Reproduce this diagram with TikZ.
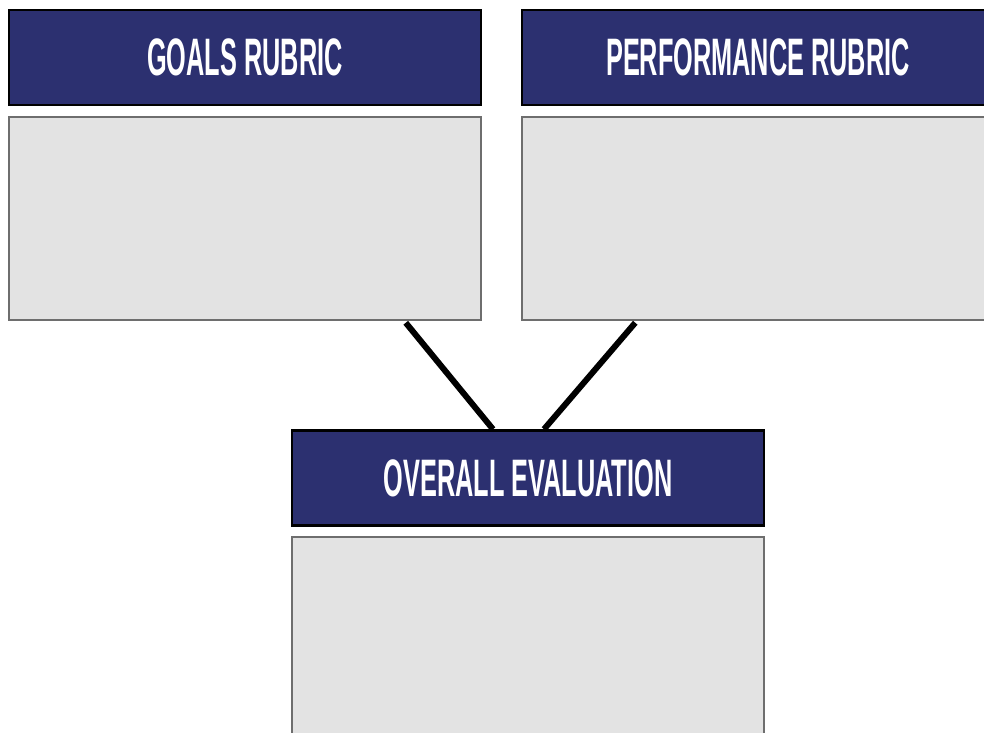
\documentclass[tikz,border=0pt]{standalone}
\usepackage{fontspec}
\usepackage{xcolor}
\newfontfamily\headfont[FakeStretch=0.48]{Liberation Sans}
\definecolor{rubricnavy}{HTML}{2C3070}
\definecolor{bodygray}{HTML}{E3E3E3}
\definecolor{edgegray}{HTML}{6E6E6E}

\begin{document}
\begin{tikzpicture}[x=0.2mm,y=-0.2mm,
	header/.style={rectangle,draw=black,line width=0.5mm,fill=rubricnavy,text=white,
		minimum width=94.4mm,minimum height=19mm,inner sep=0pt,
		font=\headfont\bfseries\fontsize{30}{30}\selectfont},
	panel/.style={rectangle,draw=edgegray,line width=0.3mm,fill=bodygray,
		minimum width=94.4mm,minimum height=40.6mm,inner sep=0pt},
	link/.style={line width=1.2mm,black}]
		\useasboundingbox (0,0) rectangle (984,733);
		\clip (0,0) rectangle (984,733);
		\path (245,57.5) node(goalshead)[header] {GOALS RUBRIC}
		(245,218.5) node(goalsbody)[panel] {}
		(758,57.5) node(perfhead)[header] {PERFORMANCE RUBRIC}
		(758,218.5) node(perfbody)[panel] {}
		(528,478) node(overallhead)[header] {OVERALL EVALUATION}
		(528,638.5) node(overallbody)[panel] {};
		\draw[link] ([xshift=-76*0.2mm,yshift=-0.4mm]goalsbody.south east)--([xshift=-35*0.2mm]overallhead.north);
		\draw[link] ([xshift=114*0.2mm,yshift=-0.4mm]perfbody.south west)--([xshift=16*0.2mm]overallhead.north);
	\end{tikzpicture}
\end{document}
